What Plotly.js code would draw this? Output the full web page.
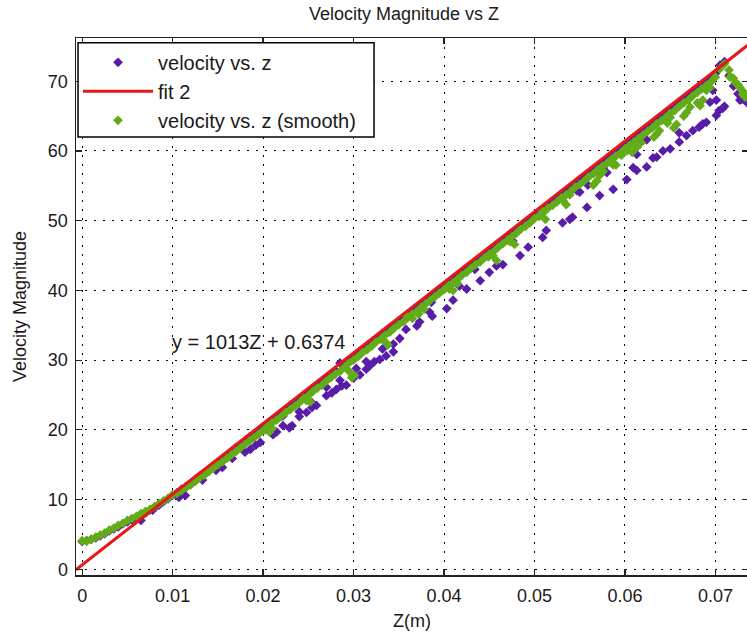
<!DOCTYPE html>
<html>
<head>
<meta charset="utf-8">
<script src="https://cdn.plot.ly/plotly-3.0.1.min.js"></script>
<style>
html, body { margin: 0; padding: 0; overflow: hidden; background: #fff; }
#chart { width: 760px; height: 637px; }
</style>
</head>
<body>
<div id="chart"></div>
<script>
// Shared z grid for the main band of both series
const zMain = [0,0.0005,0.001,0.0015,0.002,0.0025,0.003,0.0035,0.004,0.0045,0.005,0.0055,0.006,0.0065,0.007,0.0075,0.008,0.0085,0.009,0.0095,
0.01,0.0105,0.011,0.0115,0.012,0.0125,0.013,0.0135,0.014,0.0145,0.015,0.0155,0.016,0.0165,0.017,0.0175,0.018,0.0185,0.019,0.0195,
0.02,0.0205,0.021,0.0215,0.022,0.0225,0.023,0.0235,0.024,0.0245,0.025,0.0255,0.026,0.0265,0.027,0.0275,0.028,0.0285,0.029,0.0295,
0.03,0.0305,0.031,0.0315,0.032,0.0325,0.033,0.0335,0.034,0.0345,0.035,0.0355,0.036,0.0365,0.037,0.0375,0.038,0.0385,0.039,0.0395,
0.04,0.0405,0.041,0.0415,0.042,0.0425,0.043,0.0435,0.044,0.0445,0.045,0.0455,0.046,0.0465,0.047,0.0475,0.048,0.0485,0.049,0.0495,
0.05,0.0505,0.051,0.0515,0.052,0.0525,0.053,0.0535,0.054,0.0545,0.055,0.0555,0.056,0.0565,0.057,0.0575,0.058,0.0585,0.059,0.0595,
0.06,0.0605,0.061,0.0615,0.062,0.0625,0.063,0.0635,0.064,0.0645,0.065,0.0655,0.066,0.0665,0.067,0.0675,0.068,0.0685,0.069,0.0695,
0.07,0.0705,0.071,0.0715,0.072,0.0725,0.073,0.0735];

const purpleMainV = [4.0,4.1,4.3,4.5,4.8,5.1,5.5,5.8,6.1,6.5,6.8,7.1,7.4,7.8,8.1,8.5,8.8,9.2,9.7,10.1,
10.6,11.0,11.5,11.9,12.3,12.9,13.4,13.8,14.3,14.9,15.3,15.9,16.3,16.9,17.5,17.8,18.4,19.0,19.3,19.9,
20.4,20.8,21.4,21.9,22.4,22.9,23.5,23.8,24.4,25.0,25.3,25.9,26.5,26.9,27.4,27.9,28.5,29.6,29.4,29.9,
30.5,30.9,31.4,32.0,32.4,32.9,33.5,33.9,34.5,35.0,35.4,36.0,36.5,36.9,37.5,38.0,38.5,39.0,39.5,40.0,
40.5,41.0,41.5,42.0,42.5,43.0,43.6,44.0,44.6,45.0,45.6,46.1,46.6,47.1,47.6,48.1,48.7,49.1,49.7,50.2,
50.7,51.2,51.7,52.2,52.7,53.2,53.7,54.2,54.8,55.2,55.8,56.3,56.8,57.3,57.8,58.3,58.8,59.3,59.8,60.3,
60.8,61.3,61.9,62.3,62.9,63.3,63.9,64.4,64.9,65.4,65.9,66.4,66.9,67.4,68.0,68.4,69.0,69.5,70.0,70.5,
71.1,72.3,72.8,70.8,69.3,68.2,67.5,66.9];

const greenMainV = [4.1,4.0,4.3,4.6,4.9,5.2,5.6,5.9,6.3,6.6,7.0,7.3,7.6,8.0,8.3,8.6,9.0,9.4,9.8,10.2,
10.7,10.9,11.3,11.7,12.1,12.6,13.1,13.5,14.0,14.5,15.0,15.4,15.9,16.4,16.9,17.4,17.9,18.4,18.9,19.4,
19.9,20.5,21.0,21.4,21.9,22.5,22.9,23.4,23.9,24.5,24.9,25.5,26.0,26.4,27.0,27.5,28.0,28.4,29.0,29.6,
30.0,30.5,31.1,31.5,32.0,32.6,33.0,33.6,34.0,34.6,35.1,35.5,36.1,36.6,37.0,37.6,38.1,38.6,39.1,39.6,
40.1,40.7,41.1,41.6,42.2,42.6,43.2,43.7,44.1,44.7,45.2,45.6,46.2,46.7,47.2,47.7,48.2,48.8,49.2,49.7,
50.3,50.7,51.2,51.8,52.2,52.7,53.3,53.7,54.2,54.8,55.2,55.7,56.3,56.7,57.3,57.8,58.2,58.8,59.3,59.7,
60.3,60.8,61.3,61.8,62.3,62.8,63.3,63.9,64.3,64.8,65.4,65.8,66.4,66.9,67.3,67.9,68.4,68.9,69.4,69.9,
70.6,71.8,72.5,71.6,70.4,69.5,68.6,67.9];

// Off-line points of the raw data (lower streaks)
const purpleExtraZ = [0.0065,0.0078,0.0107,0.0114,0.0133,0.0148,0.0155,0.0166,0.018,0.0186,0.0192,0.0197,
0.0211,0.0215,0.0222,0.0229,0.0232,0.024,0.0248,0.0254,0.0259,0.027,0.0276,0.0281,0.0287,0.0292,0.03,0.0307,0.0314,0.0318,0.0323,0.0329,0.0336,0.0344,
0.0222,0.024,0.0254,0.027,0.0285,0.0303,0.0314,0.0332,0.0344,0.0351,0.0358,0.037,0.0373,0.0384,0.0387,0.0386,
0.0403,0.041,0.0417,0.0425,0.044,0.0434,0.045,0.0458,0.0465,0.0476,0.0484,0.0493,0.0509,0.0513,0.0531,0.0539,0.0542,0.0558,
0.0547,0.055,0.0559,0.0572,0.0576,0.058,0.0587,0.0587,0.0602,0.0609,0.0613,0.0613,0.0624,0.0624,0.0631,0.0635,0.0642,0.065,0.066,0.066,0.0668,0.0675,0.0682,0.0686,0.069,0.0694,0.0697,0.0701,0.0701,0.0704,0.0708,0.071,0.0723,0.0727,0.0729];
const purpleExtraV = [7.0,8.5,10.3,10.6,12.8,14.2,14.6,15.9,16.8,17.2,17.8,18.2,
19.3,19.7,20.6,20.3,20.6,21.9,22.5,23.2,23.5,24.9,25.3,25.8,26.3,26.4,27.4,27.9,28.7,29.2,29.8,30.1,30.6,31.2,
22.0,22.6,23.9,26.1,27.1,28.8,29.8,31.6,32.3,33.1,34.4,34.9,35.5,36.9,36.3,38.3,
37.4,38.6,40.6,40.2,41.4,43.0,42.6,43.5,43.7,47.1,45.0,46.2,47.6,48.6,49.7,50.2,50.5,51.9,
54.3,54.1,55.1,53.6,57.6,56.9,54.5,59.0,55.9,57.6,57.2,59.5,57.7,61.6,59.0,59.1,60.0,60.3,61.3,62.6,62.2,62.9,63.4,63.9,64.1,67.0,68.7,65.1,67.3,65.8,66.1,66.4,69.6,67.3,67.4];

// Dips of the smoothed series
const greenExtraZ = [0.0203,0.0207,0.021,0.0248,0.0252,0.0295,0.0298,0.0301,0.0335,0.0338,
0.0359,0.0365,0.0372,0.0378,0.0406,0.041,0.0415,0.0449,0.0454,0.0458,0.0473,0.0478,
0.0505,0.0509,0.0512,0.0535,0.0539,0.0532,0.0565,0.0569,0.0572,0.0576,0.0587,0.059,0.0596,
0.0602,0.0608,0.0613,0.0618,0.0632,0.0635,0.0638,0.0647,0.065,0.0654,0.0657,0.0665,0.0668,0.0672,
0.068,0.0683,0.0686,0.069,0.0694,0.0716,0.0722,0.0727,0.073,0.0733];
const greenExtraV = [20.0,19.7,20.2,24.2,24.0,28.4,27.5,27.8,32.6,32.2,
36.3,36.0,36.6,37.3,40.2,40.0,41.0,44.8,45.0,44.3,47.0,46.6,
50.6,51.3,50.2,52.3,53.7,52.8,55.1,55.7,56.5,57.1,58.0,58.0,59.4,
60.0,59.8,60.5,61.2,62.0,62.4,62.9,64.0,64.8,63.3,63.8,65.0,65.5,66.3,
66.9,66.5,67.3,68.7,69.1,70.6,69.8,69.1,68.1,67.7];

// Linear fit y = 1013Z + 0.6374, drawn between its end values
const fitZ = [-0.0007, 0.0736];
const fitV = [-0.07, 75.2];

const xTickVals = [0,0.01,0.02,0.03,0.04,0.05,0.06,0.07];
const xTickText = ['0','0.01','0.02','0.03','0.04','0.05','0.06','0.07'];
const yTickVals = [0,10,20,30,40,50,60,70];

const FONT = 'Liberation Sans, Arial, Helvetica, sans-serif';
const TXT = '#1a1a1a';
const PURPLE = 'rgb(88,28,168)';
const GREEN = 'rgb(98,172,24)';
const RED = 'rgb(232,22,22)';

const traces = [
  {
    x: zMain.concat(purpleExtraZ), y: purpleMainV.concat(purpleExtraV),
    type: 'scatter', mode: 'markers', name: 'velocity vs. z', legendrank: 1,
    marker: {symbol: 'diamond', size: 7.5, color: PURPLE}
  },
  {
    x: zMain.concat(greenExtraZ), y: greenMainV.concat(greenExtraV),
    type: 'scatter', mode: 'markers', name: 'velocity vs. z (smooth)', legendrank: 3,
    marker: {symbol: 'diamond', size: 7.5, color: GREEN}
  },
  {
    x: fitZ, y: fitV, type: 'scatter', mode: 'lines', name: 'fit 2', legendrank: 2,
    line: {color: RED, width: 3}
  }
];

const axisCommon = {
  showline: true, linecolor: '#222', linewidth: 1.5, mirror: 'ticks',
  ticks: 'inside', ticklen: 6, tickwidth: 1.2, tickcolor: '#222',
  showgrid: true, gridcolor: '#000', gridwidth: 1, griddash: '2px,7px',
  zeroline: false, tickfont: {family: FONT, size: 18, color: TXT}
};

const layout = {
  width: 760, height: 637,
  margin: {l: 76, r: 12, t: 38, b: 62},
  paper_bgcolor: '#fff', plot_bgcolor: '#fff',
  font: {family: FONT, color: TXT},
  title: {text: 'Velocity Magnitude vs Z', font: {family: FONT, size: 18, color: TXT},
          xref: 'container', x: 404/760, xanchor: 'center', yref: 'container', y: 1 - 14/637, yanchor: 'middle'},
  xaxis: Object.assign({}, axisCommon, {
    range: [-0.00068, 0.0736], tickmode: 'array', tickvals: xTickVals, ticktext: xTickText,
    ticklabelstandoff: 4,
    title: {text: 'Z(m)', font: {family: FONT, size: 18, color: TXT}, standoff: 9}
  }),
  yaxis: Object.assign({}, axisCommon, {
    range: [-0.82, 76.2], tickmode: 'array', tickvals: yTickVals, ticktext: yTickVals.map(String),
    ticklabelstandoff: 3,
    title: {text: 'Velocity Magnitude', font: {family: FONT, size: 18, color: TXT}, standoff: 16}
  }),
  showlegend: true,
  legend: {x: 0.003, y: 0.991, xanchor: 'left', yanchor: 'top', bgcolor: 'rgba(0,0,0,0)', borderwidth: 0,
           font: {family: FONT, size: 20, color: TXT}, itemwidth: 70, tracegroupgap: 0},
  shapes: [{type: 'rect', xref: 'paper', yref: 'paper', x0: 0.003, x1: 0.4435, y0: 0.8156, y1: 0.9912,
            line: {color: '#000', width: 1.5}, fillcolor: '#fff', layer: 'above'}],
  annotations: [{x: 0.0097, y: 32.6, xref: 'x', yref: 'y', text: 'y = 1013Z + 0.6374', showarrow: false,
                 xanchor: 'left', yanchor: 'middle', font: {family: FONT, size: 20, color: TXT}}]
};

Plotly.newPlot('chart', traces, layout, {displayModeBar: false, staticPlot: true});
</script>
</body>
</html>
